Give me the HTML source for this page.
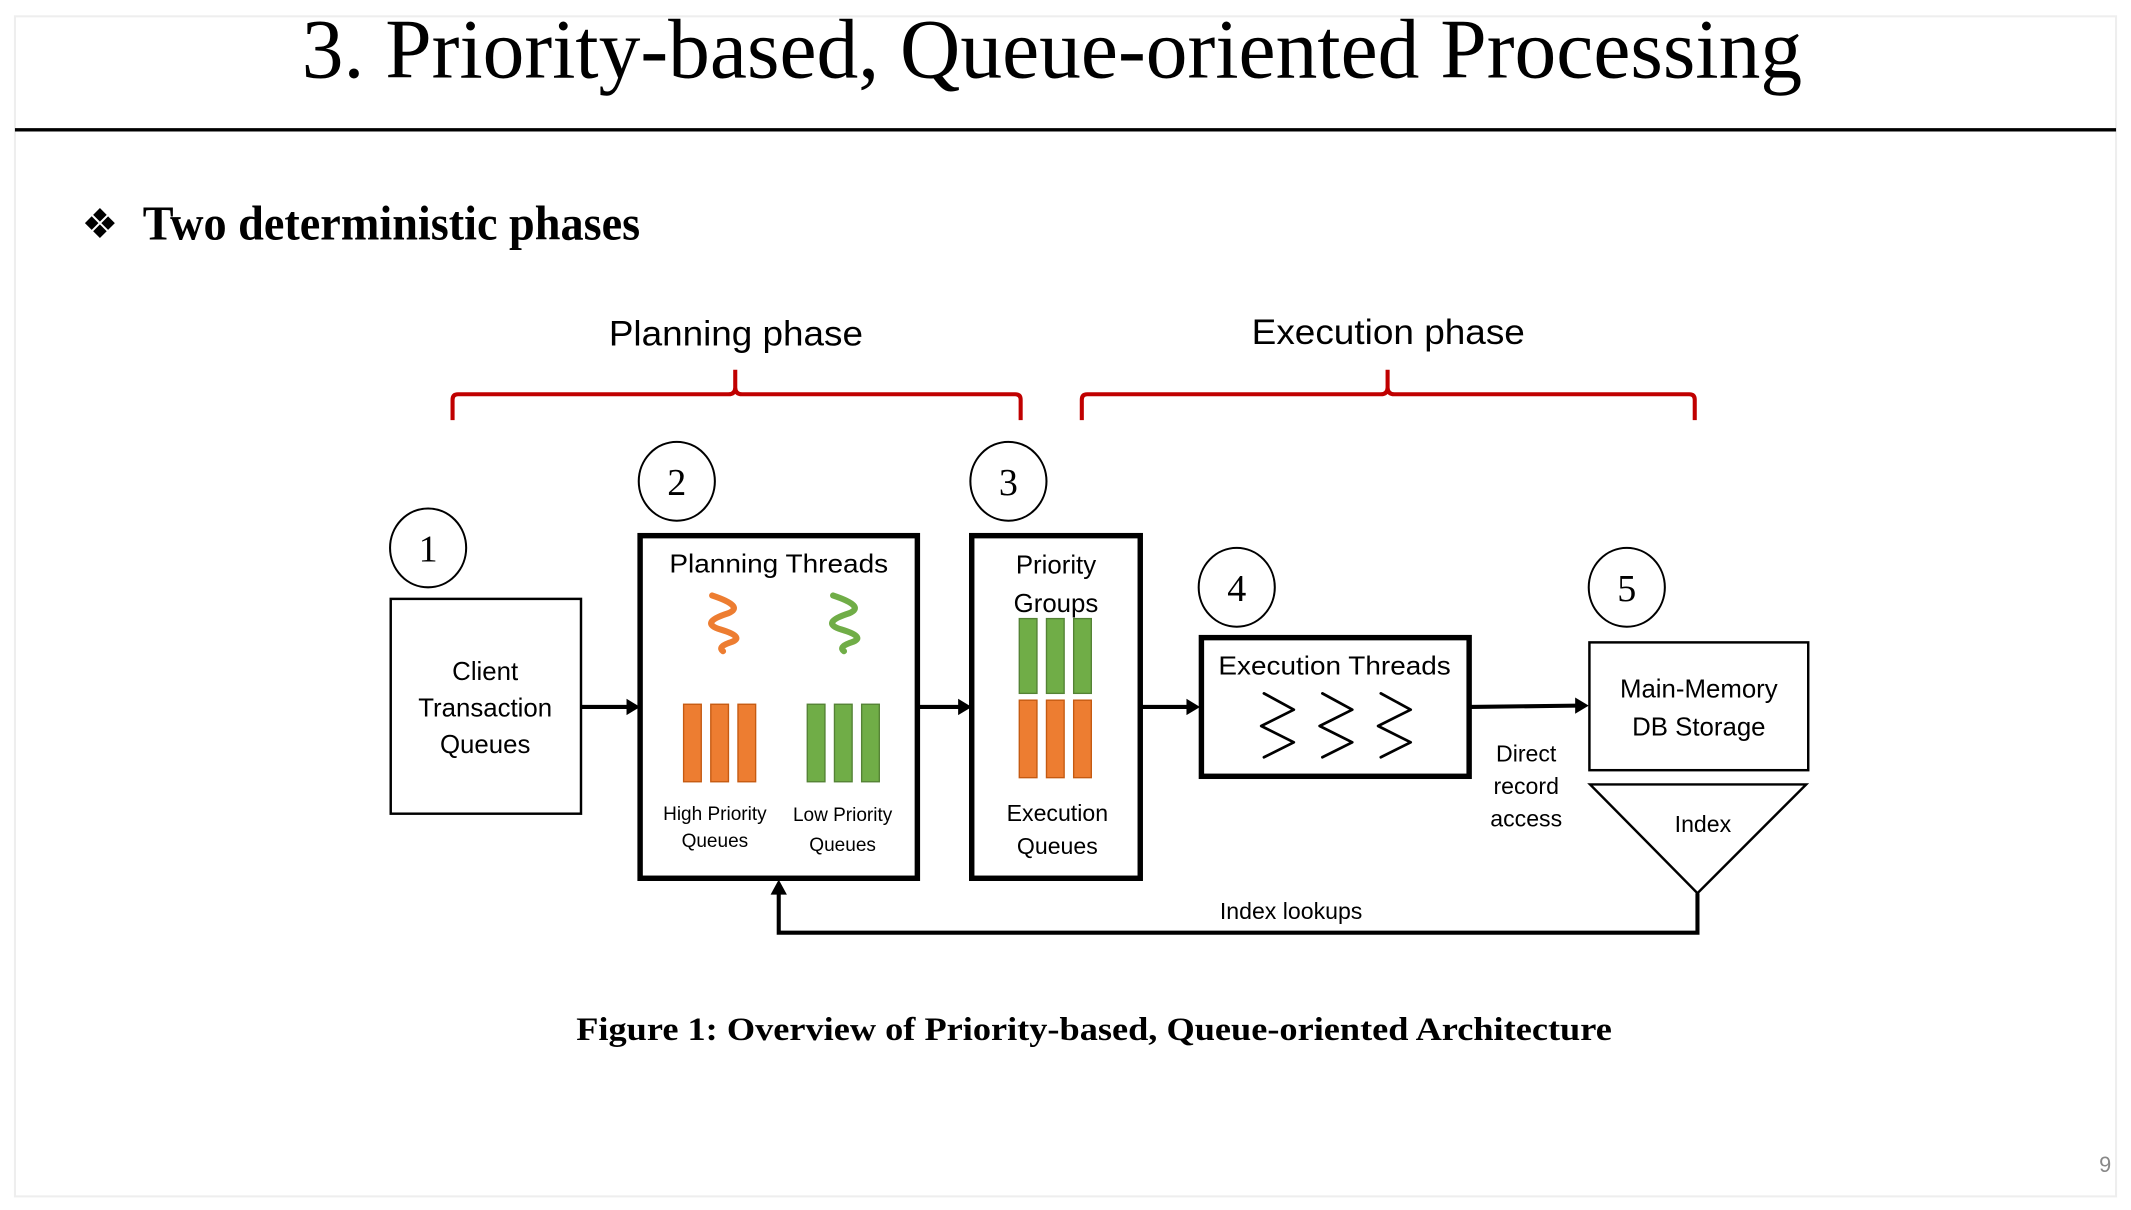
<!DOCTYPE html>
<html><head><meta charset="utf-8"><style>
html,body{margin:0;padding:0;background:#fff;width:2131px;height:1210px;overflow:hidden}
svg{display:block}
.s{font-family:"Liberation Sans",sans-serif;fill:#000}
.r{font-family:"Liberation Serif",serif;fill:#000}
</style></head><body>
<svg width="2131" height="1210" viewBox="0 0 1568 890" preserveAspectRatio="none" xmlns="http://www.w3.org/2000/svg">
<rect x="0" y="0" width="1568" height="890" fill="#fff"/>
<rect x="11" y="12" width="1546" height="868" fill="none" stroke="#eee" stroke-width="1.5"/>
<line x1="11" y1="95.5" x2="1557" y2="95.5" stroke="#000" stroke-width="2.5"/>
<text class="r" x="222" y="57" font-size="62" textLength="1104" lengthAdjust="spacingAndGlyphs">3. Priority-based, Queue-oriented Processing</text>
<text class="r" x="60" y="175" font-size="30">❖</text>
<text class="r" x="105" y="176" font-size="36" font-weight="bold" textLength="366" lengthAdjust="spacingAndGlyphs">Two deterministic phases</text>

<text class="s" x="448" y="254" font-size="26" textLength="187" lengthAdjust="spacingAndGlyphs">Planning phase</text>
<text class="s" x="921" y="253" font-size="26" textLength="201" lengthAdjust="spacingAndGlyphs">Execution phase</text>
<g fill="none" stroke="#c00000" stroke-width="3">
<path d="M333 309 V294 Q333 290 337 290 H536 Q541 290 541 285 V272 M541 285 Q541 290 546 290 H747 Q751 290 751 294 V309"/>
<path d="M796 309 V294 Q796 290 800 290 H1016 Q1021 290 1021 285 V272 M1021 285 Q1021 290 1026 290 H1243 Q1247 290 1247 294 V309"/>
</g>

<g fill="none" stroke="#000" stroke-width="1.5">
<ellipse cx="315" cy="403" rx="28" ry="29"/>
<ellipse cx="498" cy="354" rx="28" ry="29"/>
<ellipse cx="742" cy="354" rx="28" ry="29"/>
<ellipse cx="910" cy="432" rx="28" ry="29"/>
<ellipse cx="1197" cy="432" rx="28" ry="29"/>
</g>
<g class="r" font-size="28" text-anchor="middle">
<text x="315" y="413">1</text><text x="498" y="364">2</text><text x="742" y="364">3</text><text x="910" y="442">4</text><text x="1197" y="442">5</text>
</g>

<rect x="287.5" y="440.5" width="140" height="158" fill="none" stroke="#000" stroke-width="1.8"/>
<g class="s" font-size="19" text-anchor="middle">
<text x="357" y="500">Client</text><text x="357" y="527">Transaction</text><text x="357" y="554">Queues</text>
</g>

<rect x="471" y="394" width="204" height="252" fill="none" stroke="#000" stroke-width="4"/>
<text class="s" x="573" y="421" font-size="19" text-anchor="middle" textLength="161" lengthAdjust="spacingAndGlyphs">Planning Threads</text>
<path d="M524 438 Q548 446 536 451 Q514 458 530 463 Q550 469 536 473 Q528 476 532 479" fill="none" stroke="#ed7d31" stroke-width="4.5" stroke-linejoin="round" stroke-linecap="round"/>
<path d="M613 438 Q637 446 625 451 Q603 458 619 463 Q639 469 625 473 Q617 476 621 479" fill="none" stroke="#70ad47" stroke-width="4.5" stroke-linejoin="round" stroke-linecap="round"/>
<g fill="#ed7d31" stroke="#c55a11" stroke-width="1">
<rect x="503" y="518" width="13" height="57"/><rect x="523" y="518" width="13" height="57"/><rect x="543" y="518" width="13" height="57"/>
</g>
<g fill="#70ad47" stroke="#548235" stroke-width="1">
<rect x="594" y="518" width="13" height="57"/><rect x="614" y="518" width="13" height="57"/><rect x="634" y="518" width="13" height="57"/>
</g>
<g class="s" font-size="14" text-anchor="middle">
<text x="526" y="603">High Priority</text><text x="526" y="623">Queues</text>
<text x="620" y="604">Low Priority</text><text x="620" y="626">Queues</text>
</g>

<rect x="715" y="394" width="124" height="252" fill="none" stroke="#000" stroke-width="4"/>
<g fill="#70ad47" stroke="#548235" stroke-width="1">
<rect x="750" y="455" width="13" height="55"/><rect x="770" y="455" width="13" height="55"/><rect x="790" y="455" width="13" height="55"/>
</g>
<g fill="#ed7d31" stroke="#c55a11" stroke-width="1">
<rect x="750" y="515" width="13" height="57"/><rect x="770" y="515" width="13" height="57"/><rect x="790" y="515" width="13" height="57"/>
</g>
<g class="s" font-size="19" text-anchor="middle">
<text x="777" y="422">Priority</text><text x="777" y="450">Groups</text>
<text x="778" y="604" font-size="17">Execution</text><text x="778" y="628" font-size="17">Queues</text>
</g>

<rect x="884" y="469" width="197" height="102" fill="none" stroke="#000" stroke-width="4"/>
<text class="s" x="982" y="496" font-size="19" text-anchor="middle" textLength="171" lengthAdjust="spacingAndGlyphs">Execution Threads</text>
<g fill="none" stroke="#000" stroke-width="2" stroke-linejoin="round" stroke-linecap="round">
<path d="M930 510 L952 522 L928 534 L952 546 L930 557"/>
<path d="M973 510 L995 522 L971 534 L995 546 L973 557"/>
<path d="M1016 510 L1038 522 L1014 534 L1038 546 L1016 557"/>
</g>

<rect x="1169.5" y="472.5" width="161" height="94" fill="none" stroke="#000" stroke-width="1.8"/>
<g class="s" font-size="19" text-anchor="middle">
<text x="1250" y="513">Main-Memory</text><text x="1250" y="541">DB Storage</text>
</g>
<path d="M1170 577 L1329 577 L1249 657 Z" fill="none" stroke="#000" stroke-width="1.8"/>
<text class="s" x="1253" y="612" font-size="17" text-anchor="middle">Index</text>
<g class="s" font-size="17" text-anchor="middle">
<text x="1123" y="560">Direct</text><text x="1123" y="584">record</text><text x="1123" y="608">access</text>
</g>

<g stroke="#000" stroke-width="3" fill="none">
<line x1="428" y1="520" x2="462" y2="520"/>
<line x1="676" y1="520" x2="706" y2="520"/>
<line x1="840" y1="520" x2="874" y2="520"/>
<line x1="1082" y1="520" x2="1160" y2="519"/>
<path d="M1249 657 V686 H573 V656"/>
</g>
<g fill="#000">
<path d="M471 520 L461 514 L461 526 Z"/>
<path d="M715 520 L705 514 L705 526 Z"/>
<path d="M883 520 L873 514 L873 526 Z"/>
<path d="M1169 519 L1159 513 L1159 525 Z"/>
<path d="M573 647 L567 658 L579 658 Z"/>
</g>
<text class="s" x="950" y="676" font-size="17" text-anchor="middle">Index lookups</text>

<text class="r" x="424" y="765" font-size="24" font-weight="bold" textLength="762" lengthAdjust="spacingAndGlyphs">Figure 1: Overview of Priority-based, Queue-oriented Architecture</text>
<text class="s" x="1549" y="862" font-size="16" text-anchor="middle" style="fill:#888">9</text>
</svg>
</body></html>
